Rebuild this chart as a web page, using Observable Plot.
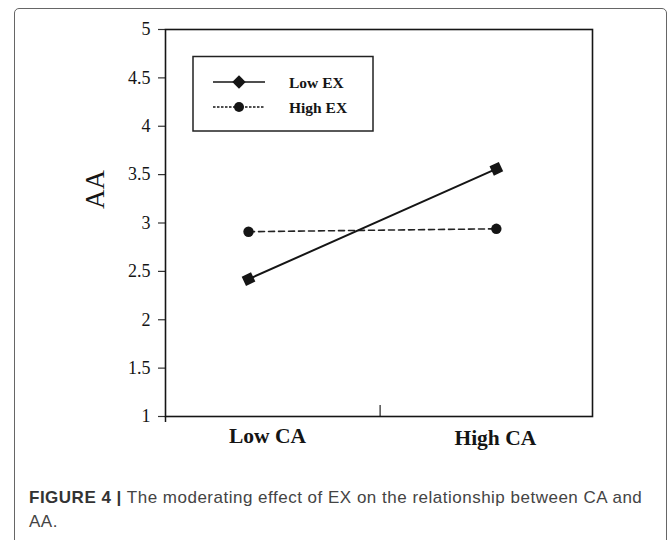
<!DOCTYPE html>
<html>
<head>
<meta charset="utf-8">
<script src="https://cdn.jsdelivr.net/npm/d3@7"></script>
<script src="https://cdn.jsdelivr.net/npm/@observablehq/plot@0.6"></script>
<style>
  html, body { margin: 0; padding: 0; background: #fff; }
  body { width: 669px; height: 540px; overflow: hidden; position: relative; }
  #border { position: absolute; left: 14px; top: 8px; width: 653px; height: 600px;
            border: 1.5px solid #666; border-radius: 5px; box-sizing: border-box; }
  #chart { position: absolute; left: 0; top: 0; }
  #legend { position: absolute; left: 0; top: 0; pointer-events: none; }
  #caption { position: absolute; left: 29px; top: 486px; width: 636px;
             font-family: "Liberation Sans", Arial, sans-serif; font-size: 17px;
             line-height: 24px; color: #444; letter-spacing: 0.5px; }
  #caption div { white-space: nowrap; }
  #caption .fig { color: #333; font-weight: bold; }
</style>
</head>
<body>
<div id="border"></div>
<div id="chart"></div>
<svg id="legend" width="669" height="460"></svg>
<div id="caption">
  <div><span class="fig">FIGURE 4 |</span> <span>The moderating effect of EX on the relationship between CA and</span></div>
  <div><span>AA.</span></div>
</div>
<script>
// ---- data ----
const categories = ["Low CA", "High CA"];
const series = ["Low EX", "High EX"];
const lowEX = [2.42, 3.56];
const highEX = [2.91, 2.94];
const yTicks = [1, 1.5, 2, 2.5, 3, 3.5, 4, 4.5, 5];
const yLabel = "AA";

const rows = [
  ...categories.map((c, i) => ({series: series[0], ca: c, idx: i + 1, value: lowEX[i]})),
  ...categories.map((c, i) => ({series: series[1], ca: c, idx: i + 1, value: highEX[i]}))
];
const lowRows = rows.filter(d => d.series === series[0]);
const highRows = rows.filter(d => d.series === series[1]);

const ink = "#151515";
const serif = "'Liberation Serif', 'Times New Roman', serif";
const xDomain = [0.665, 2.388];
const midTick = 1.531;

const chart = Plot.plot({
  width: 669,
  height: 460,
  marginLeft: 165,
  marginRight: 77,
  marginTop: 29,
  marginBottom: 44,
  style: {background: "transparent", color: ink, fontFamily: serif},
  x: {type: "linear", domain: xDomain, axis: null},
  y: {type: "linear", domain: [1, 5], axis: null},
  marks: [
    Plot.axisY({ticks: yTicks, tickSize: 7, tickPadding: 8, fontSize: 18,
                fontFamily: serif, tickFormat: d => String(d), label: null,
                stroke: "#333", strokeWidth: 1.2}),
    Plot.axisX({ticks: [xDomain[0]], tickSize: 6, tickFormat: () => "", label: null,
                stroke: ink, strokeWidth: 1.5}),
    Plot.ruleX([midTick], {insetTop: 376, stroke: "#333", strokeWidth: 1.3}),
    Plot.frame({stroke: ink, strokeWidth: 1.6}),
    Plot.line(highRows, {x: "idx", y: "value", stroke: "#222", strokeWidth: 1.6, strokeDasharray: "6,4"}),
    Plot.line(lowRows, {x: "idx", y: "value", stroke: ink, strokeWidth: 2}),
    Plot.dot(lowRows, {x: "idx", y: "value", symbol: "square", r: 5.8, rotate: -25, fill: ink, stroke: "none"}),
    Plot.dot(highRows, {x: "idx", y: "value", symbol: "circle", r: 5.2, fill: ink, stroke: "none"}),
    Plot.text([categories[0]], {x: 1, frameAnchor: "bottom", lineAnchor: "top", dy: 11, dx: 19,
                                text: d => d, fontSize: 21.5, fontWeight: "bold", fontFamily: serif, fill: ink}),
    Plot.text([categories[1]], {x: 2, frameAnchor: "bottom", lineAnchor: "top", dy: 13, dx: -1,
                                text: d => d, fontSize: 21.5, fontWeight: "bold", fontFamily: serif, fill: ink}),
    Plot.text([yLabel], {frameAnchor: "left", dx: -70, dy: -14, rotate: -90, text: d => d,
                         fontSize: 27, fontFamily: serif, fill: ink})
  ]
});
document.getElementById("chart").appendChild(chart);

// ---- legend (overlay) ----
const lg = d3.select("#legend");
lg.append("rect").attr("x", 193).attr("y", 56.5).attr("width", 180).attr("height", 74.5)
  .attr("fill", "#fff").attr("stroke", "#222").attr("stroke-width", 1.5);
const rowsY = [82, 107];
series.forEach((s, i) => {
  const y = rowsY[i];
  lg.append("line").attr("x1", 213).attr("x2", 265).attr("y1", y).attr("y2", y)
    .attr("stroke", ink).attr("stroke-width", i === 0 ? 1.6 : 1.3)
    .attr("stroke-dasharray", i === 0 ? null : "2.5,1.5");
  if (i === 0) {
    lg.append("path").attr("d", d3.symbol(d3.symbolSquare, 90)())
      .attr("transform", `translate(239,${y}) rotate(45)`).attr("fill", ink);
  } else {
    lg.append("circle").attr("cx", 239).attr("cy", y).attr("r", 5).attr("fill", ink);
  }
  lg.append("text").attr("x", 289).attr("y", y + 5.5).text(s)
    .attr("font-family", serif).attr("font-weight", "bold").attr("font-size", 15.5).attr("fill", ink);
});
</script>
</body>
</html>
